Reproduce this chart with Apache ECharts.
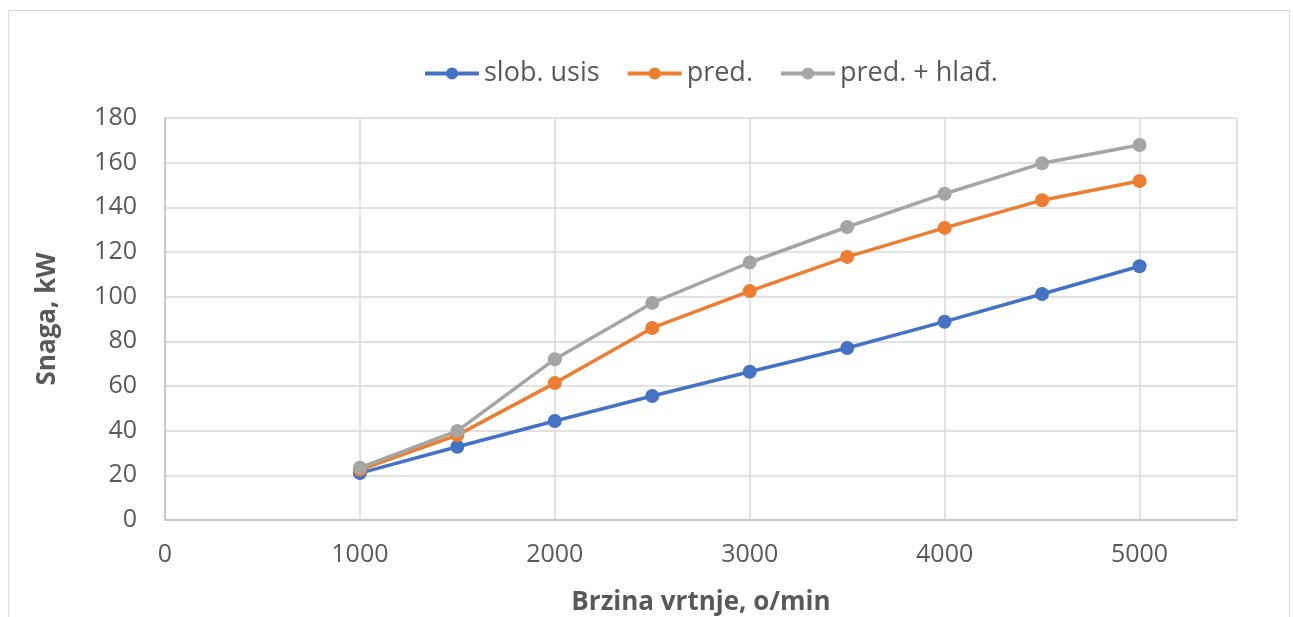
<!DOCTYPE html>
<html>
<head>
<meta charset="utf-8">
<script src="https://cdn.jsdelivr.net/npm/echarts@6/dist/echarts.min.js"></script>
<style>
  html, body { margin: 0; padding: 0; background: #fff; }
  #frame { position: absolute; left: 8px; top: 10px; width: 1282px; height: 640px; border: 1px solid #d9d9d9; box-sizing: border-box; }
  #chart { position: absolute; left: 0; top: 0; width: 1293px; height: 617px; }
</style>
</head>
<body>
<div id="frame"></div>
<div id="chart"></div>
<script>
// Engine speed (o/min) and power (kW) for three intake configurations
const speeds = [1000, 1500, 2000, 2500, 3000, 3500, 4000, 4500, 5000];
const slobUsis = [21, 32.8, 44.3, 55.5, 66.4, 77, 88.8, 101.2, 113.6];
const pred = [22.5, 38, 61.3, 86, 102.5, 117.8, 130.8, 143.2, 151.8];
const predHlad = [23.4, 39.9, 72, 97.2, 115.3, 131.2, 146.1, 159.7, 167.9];

const seriesNames = ['slob. usis', 'pred.', 'pred. + hlađ.'];
const colors = ['#4472c4', '#ed7d31', '#a5a5a5'];

const font = 'Open Sans, Noto Sans, sans-serif';
const pairs = arr => speeds.map((s, i) => [s, arr[i]]);

const chart = echarts.init(document.getElementById('chart'), null, { renderer: 'canvas' });

function mkSeries(name, data, color) {
  return {
    name: name,
    type: 'line',
    data: pairs(data),
    symbol: 'circle',
    symbolSize: 14,
    lineStyle: { width: 3.5, color: color },
    itemStyle: { color: color },
    emphasis: { disabled: true },
    animation: false
  };
}

chart.setOption({
  animation: false,
  color: colors,
  legend: {
    top: 55,
    left: 418,
    itemWidth: 54,
    itemHeight: 15,
    itemGap: 26,
    lineStyle: { width: 4 },
    textStyle: { fontFamily: font, fontSize: 27, color: '#595959' },
    data: seriesNames
  },
  grid: { left: 165, right: 56, top: 118, bottom: 97, containLabel: false, outerBoundsMode: 'none' },
  xAxis: {
    type: 'value',
    min: 0,
    max: 5500,
    interval: 1000,
    name: 'Brzina vrtnje, o/min',
    nameLocation: 'middle',
    nameGap: 70,
    nameTextStyle: { fontFamily: font, fontSize: 26, fontWeight: 'bold', color: '#595959' },
    axisLine: { show: true, lineStyle: { color: '#bfbfbf', width: 1.5 } },
    axisTick: { show: false },
    axisLabel: {
      fontFamily: font, fontSize: 25, color: '#595959', margin: 22,
      formatter: v => (v % 1000 === 0 && v <= 5000) ? String(v) : ''
    },
    splitLine: { show: true, lineStyle: { color: '#d9d9d9', width: 1.5 } }
  },
  yAxis: {
    type: 'value',
    min: 0,
    max: 180,
    interval: 20,
    name: 'Snaga, kW',
    nameLocation: 'middle',
    nameRotate: 90,
    nameGap: 104,
    nameTextStyle: { fontFamily: font, fontSize: 26, fontWeight: 'bold', color: '#595959' },
    axisLine: { show: true, lineStyle: { color: '#bfbfbf', width: 1.5 } },
    axisTick: { show: false },
    axisLabel: { fontFamily: font, fontSize: 25, color: '#595959', margin: 28 },
    splitLine: { show: true, lineStyle: { color: '#d9d9d9', width: 1.5 } }
  },
  series: [
    mkSeries(seriesNames[0], slobUsis, colors[0]),
    mkSeries(seriesNames[1], pred, colors[1]),
    mkSeries(seriesNames[2], predHlad, colors[2])
  ]
});
</script>
</body>
</html>
